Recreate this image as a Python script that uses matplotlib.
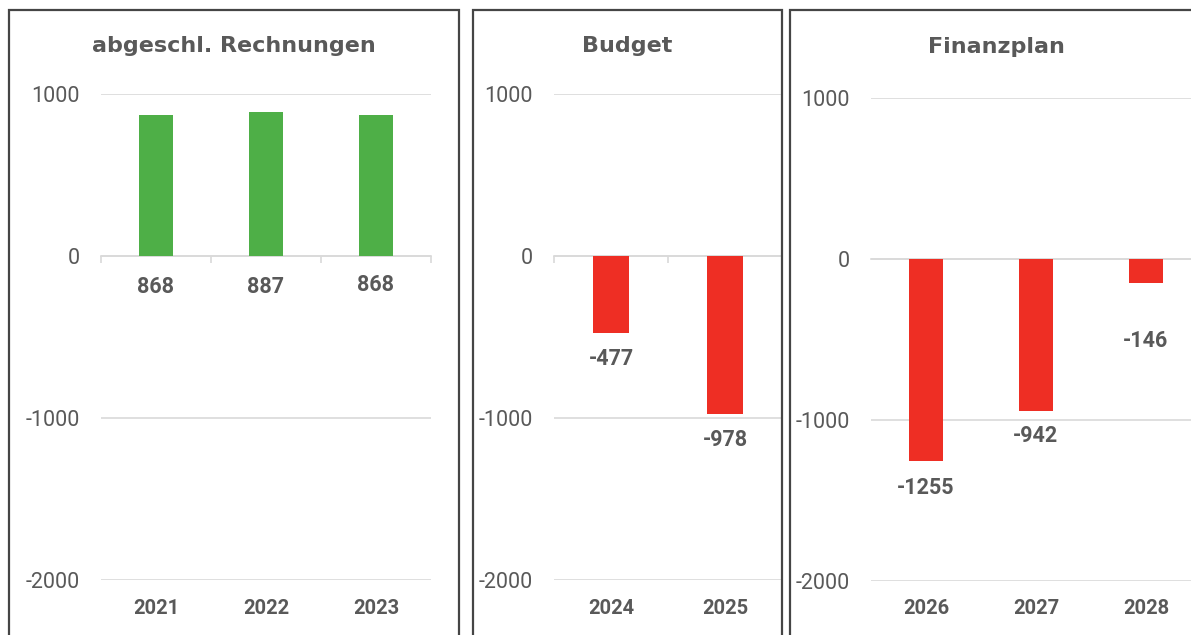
import matplotlib
matplotlib.use('Agg')
import matplotlib.pyplot as plt
from matplotlib.patches import Rectangle
from matplotlib.transforms import blended_transform_factory, ScaledTranslation

# ==== data ====
titles = ["abgeschl. Rechnungen", "Budget", "Finanzplan"]
years_rech = ["2021", "2022", "2023"]
vals_rech = [868, 887, 868]
years_budget = ["2024", "2025"]
vals_budget = [-477, -978]
years_plan = ["2026", "2027", "2028"]
vals_plan = [-1255, -942, -146]
y_ticks = [1000, 0, -1000, -2000]

# ==== style ====
W, H = 1191, 635
TXT = "#595959"
GRID = "#D9D9D9"
GREEN = "#4EAF47"
RED = "#EE2E24"
BORDER = "#454545"
NUM_FONT = ['Roboto', 'DejaVu Sans']
TITLE_FONT = ['DejaVu Sans']

plt.rcParams['font.family'] = NUM_FONT
plt.rcParams['axes.unicode_minus'] = False

fig = plt.figure(figsize=(W / 100, H / 100), dpi=100)


def px_axes(x0, x1, y_top, y_bot):
    # pixel box (origin top-left) -> figure coords
    return fig.add_axes([x0 / W, 1 - y_bot / H, (x1 - x0) / W, (y_bot - y_top) / H])


def panel(ax, years, vals, color, drops, ticks_on_zero=True):
    n = len(years)
    x = list(range(n))
    ax.bar(x, vals, width=0.31, color=color, zorder=3)
    ax.set_xlim(-0.5, n - 0.5)
    ax.set_ylim(-2000, 1000)
    ax.set_yticks(y_ticks)
    ax.set_yticklabels([str(t) for t in y_ticks])
    ax.tick_params(axis='y', length=0, pad=15, labelsize=15.5, labelcolor=TXT)
    ax.grid(axis='y', color=GRID, linewidth=1.2, zorder=0)
    for s in ['top', 'right', 'left']:
        ax.spines[s].set_visible(False)
    ax.spines['bottom'].set_position(('data', 0))
    ax.spines['bottom'].set_color(GRID)
    ax.spines['bottom'].set_linewidth(1.2)
    ax.set_xticks(x)
    ax.tick_params(axis='x', which='major', length=0, labelbottom=False)
    if ticks_on_zero:
        ax.set_xticks([i - 0.5 for i in range(n + 1)], minor=True)
        ax.tick_params(axis='x', which='minor', length=5, width=1.2, color=GRID, direction='out')
    # year labels below the plot area
    tr = blended_transform_factory(ax.transData, ax.transAxes) + \
        ScaledTranslation(0, -28 / 100, fig.dpi_scale_trans)
    for i, y in enumerate(years):
        ax.text(i, 0, y, transform=tr, ha='center', va='center', fontsize=14.5,
                fontweight='bold', color=TXT)
    # data labels
    for i, v in enumerate(vals):
        base = 0 if v > 0 else v
        ax.annotate(str(v), (i, base), xytext=(0, -drops[i] * 0.72), textcoords='offset points',
                    ha='center', va='center', fontsize=15.5, fontweight='bold', color=TXT)
    ax.set_facecolor('none')


ax1 = px_axes(101, 431, 94, 580)
panel(ax1, years_rech, vals_rech, GREEN, [31, 31, 29])

ax2 = px_axes(554, 782, 94, 580)
panel(ax2, years_budget, vals_budget, RED, [26, 26])

ax3 = px_axes(871, 1201, 98, 581)
panel(ax3, years_plan, vals_plan, RED, [27, 25, 58], ticks_on_zero=False)

# titles
for title, cx, cy in zip(titles, [234, 627, 996], [46, 46, 47]):
    fig.text(cx / W, 1 - cy / H, title, ha='center', va='center', fontsize=16,
             fontweight='bold', color=TXT, family=TITLE_FONT)

# chart borders
for x0, x1 in [(9, 459), (473, 782), (790, 1260)]:
    fig.patches.append(Rectangle((x0 / W, -0.1), (x1 - x0) / W, (H - 10) / H + 0.1,
                                 transform=fig.transFigure, fill=False,
                                 edgecolor=BORDER, linewidth=1.6, zorder=10))

fig.savefig('out.png', dpi=100)
